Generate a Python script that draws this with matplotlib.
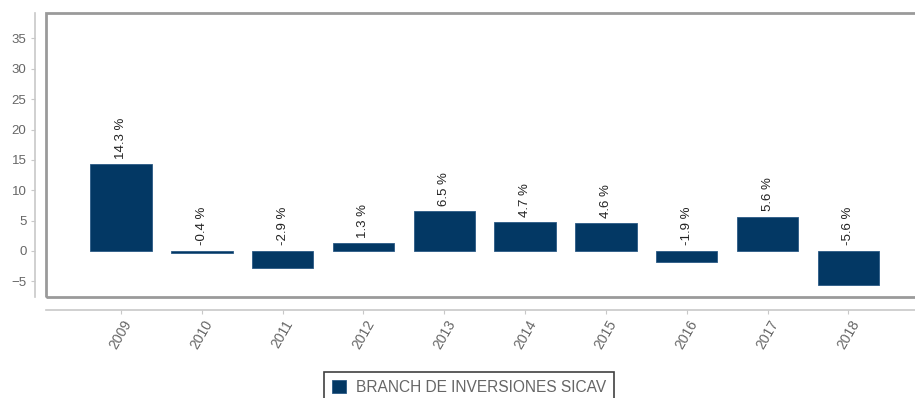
import numpy as np
import matplotlib.pyplot as plt
from matplotlib.patches import Rectangle

plt.rcParams['font.family'] = ['Liberation Sans', 'DejaVu Sans']

years = ['2009', '2010', '2011', '2012', '2013', '2014', '2015', '2016', '2017', '2018']
returns = [14.3, -0.4, -2.9, 1.3, 6.5, 4.7, 4.6, -1.9, 5.6, -5.6]
series_name = 'BRANCH DE INVERSIONES SICAV'

navy = '#033864'
frame_grey = '#9a9a9a'
axis_grey = '#c8c8c8'
text_grey = '#666666'

fig = plt.figure(figsize=(9.15, 3.98), dpi=100)
ax = fig.add_axes([46 / 915, 1 - 297 / 398, 1.02 - 46 / 915, (297 - 13) / 398])

x = np.arange(len(years))
bars = ax.bar(x, returns, width=0.76, color=navy, edgecolor='#2a5a85', linewidth=0.6,
              label=series_name)

# value labels, rotated, just above the bar (or above zero for negatives)
for xi, v in zip(x, returns):
    ax.text(xi, max(v, 0) + 0.9, f'{v:.1f} %', rotation=90, ha='center', va='bottom',
            fontsize=9.5, color='#222222')

ax.set_xlim(-0.928, 10.05)
ax.set_ylim(-7.6, 39.2)
ax.set_yticks(range(-5, 40, 5))
ax.set_xticks(x)
ax.set_xticklabels(years)
ax.tick_params(axis='y', labelsize=9.5, color=axis_grey, labelcolor=text_grey,
               length=3, pad=3)
ax.tick_params(axis='x', labelsize=10, color=axis_grey, labelcolor=text_grey,
               length=3, pad=3, labelrotation=60)

# detached axis lines
ax.spines['left'].set_position(('outward', 8))
ax.spines['bottom'].set_position(('outward', 9))
for side in ['left', 'bottom']:
    ax.spines[side].set_color(axis_grey)
    ax.spines[side].set_linewidth(1.2)
ax.spines['top'].set_visible(False)
ax.spines['right'].set_visible(False)

# plot frame
ax.add_patch(Rectangle((0, 0), 1, 1, transform=ax.transAxes, fill=False,
                       edgecolor=frame_grey, linewidth=2, clip_on=False))

leg = fig.legend(handles=[bars], labels=[series_name], loc='upper center',
                 bbox_to_anchor=(469 / 915, 1 - 372 / 398), fontsize=11.2,
                 frameon=True, fancybox=False, edgecolor='#111111',
                 handlelength=0.9, handleheight=0.9, handletextpad=0.6,
                 borderpad=0.5, borderaxespad=0)
leg.get_frame().set_linewidth(1.2)
for t in leg.get_texts():
    t.set_color(text_grey)

fig.savefig('out.png', dpi=100)
